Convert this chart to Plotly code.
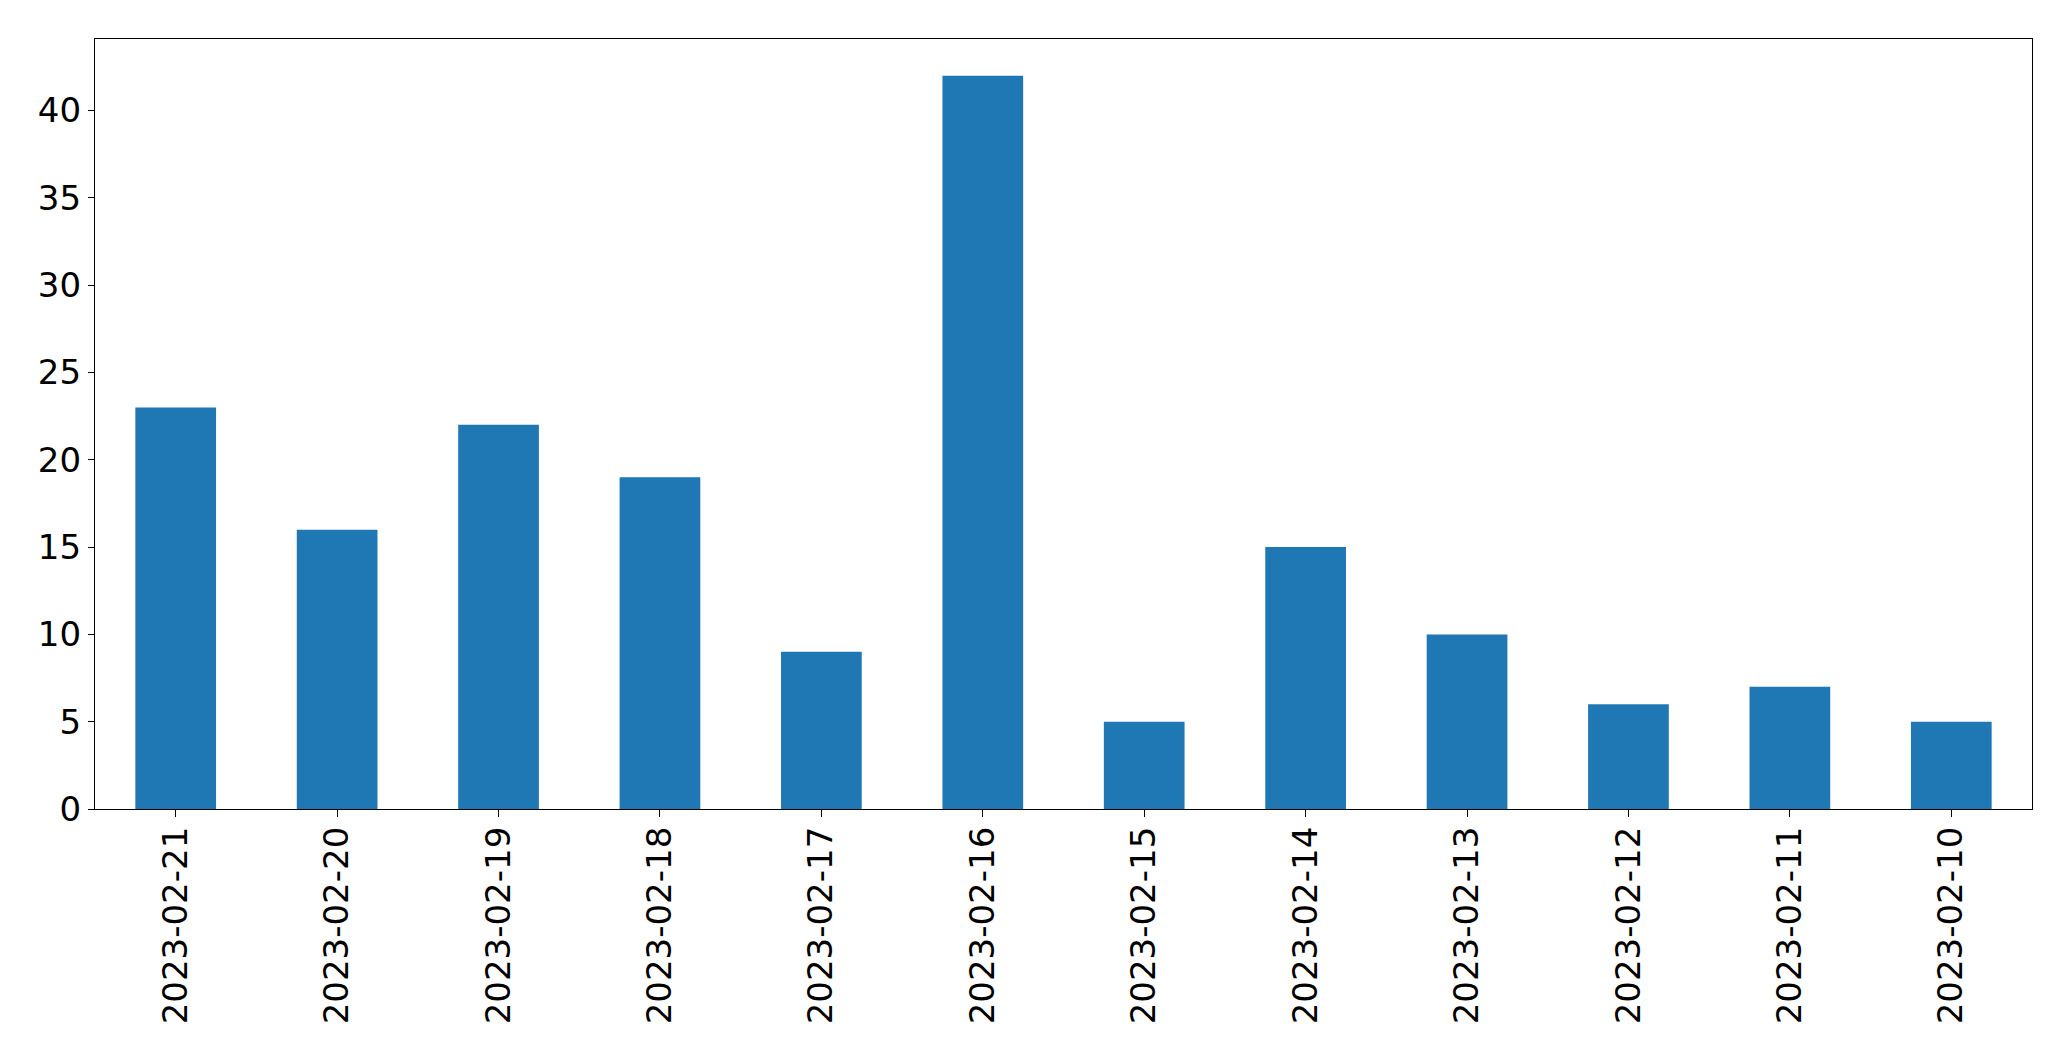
import plotly.graph_objects as go

dates = ["2023-02-21", "2023-02-20", "2023-02-19", "2023-02-18", "2023-02-17", "2023-02-16",
         "2023-02-15", "2023-02-14", "2023-02-13", "2023-02-12", "2023-02-11", "2023-02-10"]
counts = [23, 16, 22, 19, 9, 42, 5, 15, 10, 6, 7, 5]
y_ticks = [0, 5, 10, 15, 20, 25, 30, 35, 40]

fig = go.Figure(go.Bar(
    x=list(range(len(dates))), y=counts, width=0.5,
    marker=dict(color="#1f77b4", line=dict(width=0)),
))

font = dict(family="DejaVu Sans", size=34, color="black")
fig.update_layout(
    width=2063, height=1053,
    margin=dict(l=87, r=39, t=31, b=252, autoexpand=False),
    paper_bgcolor="white", plot_bgcolor="white",
    showlegend=False, font=font,
)
fig.update_xaxes(
    range=[-0.5, 11.5], tickmode="array", tickvals=list(range(len(dates))), ticktext=dates,
    tickangle=-90, ticks="outside", ticklen=7, tickwidth=1.3, tickcolor="black",
    ticklabelstandoff=-4,
    showline=True, mirror=True, linecolor="black", linewidth=1.3,
    showgrid=False, zeroline=False, tickfont=font, automargin=False,
)
fig.update_yaxes(
    range=[0, 44.1], tickmode="array", tickvals=y_ticks,
    ticks="outside", ticklen=6, tickwidth=1.3, tickcolor="black",
    showline=True, mirror=True, linecolor="black", linewidth=1.3,
    showgrid=False, zeroline=False, tickfont=font, automargin=False,
)
fig.write_html("out.html")
